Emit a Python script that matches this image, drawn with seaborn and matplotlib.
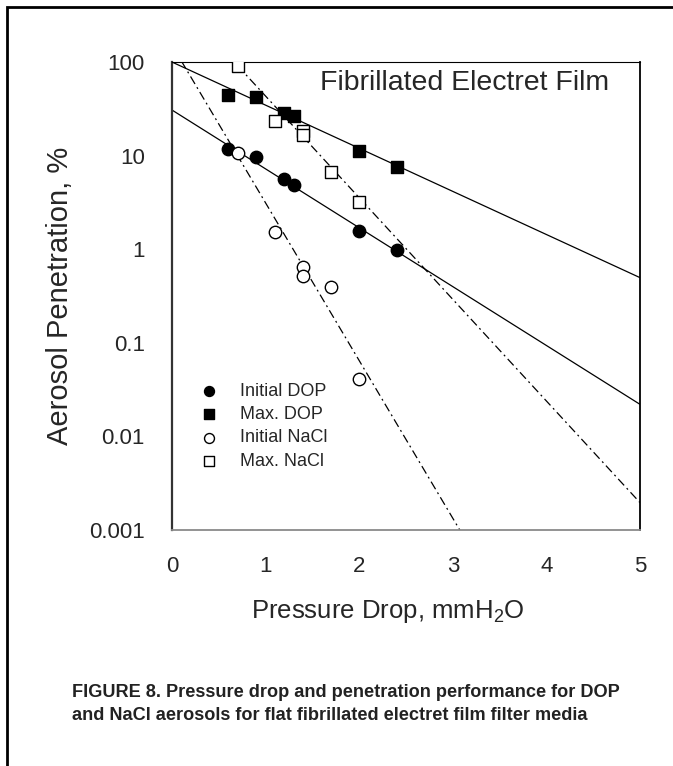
import numpy as np
import pandas as pd
import seaborn as sns
import matplotlib.pyplot as plt
from matplotlib.patches import Rectangle

# Measured points (pressure drop mmH2O, penetration %)
init_dop_x = [0.6, 0.9, 1.2, 1.3, 2.0, 2.4]
init_dop_y = [11.7, 9.6, 5.6, 4.9, 1.56, 0.98]

max_dop_x = [0.6, 0.9, 1.2, 1.3, 2.0, 2.4]
max_dop_y = [45, 42, 28.3, 26.7, 11.2, 7.6]

init_nacl_x = [0.7, 1.1, 1.4, 1.4, 1.7, 2.0]
init_nacl_y = [10.7, 1.54, 0.64, 0.52, 0.39, 0.041]

max_nacl_x = [0.7, 1.1, 1.4, 1.4, 1.7, 2.0]
max_nacl_y = [90, 23.4, 18.3, 16.8, 6.7, 3.2]

# Fitted lines, read at both ends of the x range
fit_x = [0, 5]
fit_init_dop = [30.7, 0.022]
fit_max_dop = [100, 0.497]
fit_init_nacl = [151, 5.7e-7]
fit_max_nacl = [527, 0.00196]

legend_labels = ["Initial DOP", "Max. DOP", "Initial NaCl", "Max. NaCl"]
y_ticks = [100, 10, 1, 0.1, 0.01, 0.001]
y_tick_labels = ["100", "10", "1", "0.1", "0.01", "0.001"]
x_ticks = [0, 1, 2, 3, 4, 5]
caption = ["FIGURE 8. Pressure drop and penetration performance for DOP",
           "and NaCl aerosols for flat fibrillated electret film filter media"]

sns.set_style("white")
plt.rcParams["font.family"] = ["Liberation Sans", "DejaVu Sans"]
plt.rcParams["mathtext.default"] = "regular"

fig = plt.figure(figsize=(6.73, 7.66), dpi=100)
ax = fig.add_axes([0.2556, 0.3081, 0.6954, 0.6109])

# fit lines
dashdot = (7, 3, 1.5, 3)
ax.plot(fit_x, fit_max_dop, color="black", lw=0.9)
ax.plot(fit_x, fit_init_dop, color="black", lw=0.9)
ax.plot(fit_x, fit_init_nacl, color="black", lw=0.9, dashes=dashdot)
ax.plot(fit_x, fit_max_nacl, color="black", lw=0.9, dashes=dashdot)

series = [
    (init_dop_x, init_dop_y, "o", "black", legend_labels[0]),
    (max_dop_x, max_dop_y, "s", "black", legend_labels[1]),
    (init_nacl_x, init_nacl_y, "o", "white", legend_labels[2]),
    (max_nacl_x, max_nacl_y, "s", "white", legend_labels[3]),
]
for xs, ys, mk, fc, lab in series:
    df = pd.DataFrame({"x": xs, "y": ys})
    sns.scatterplot(data=df, x="x", y="y", ax=ax, marker=mk, s=80 if mk == "o" else 72,
                    facecolor=fc, edgecolor="black", linewidth=1.0, label=lab, zorder=5)

ax.set_yscale("log")
ax.set_xlim(0, 5)
ax.set_ylim(0.001, 100)
ax.set_yticks(y_ticks)
ax.set_yticklabels(y_tick_labels)
ax.set_xticks(x_ticks)
ax.minorticks_off()
ax.tick_params(axis="both", direction="out", length=7.5, width=1, labelsize=16,
               color="black")
ax.tick_params(axis="y", pad=12)
ax.tick_params(axis="x", pad=11)

for side in ["left", "right", "top", "bottom"]:
    ax.spines[side].set_color("black")
ax.spines["left"].set_linewidth(1.6)
ax.spines["left"].set_color("#333333")
ax.spines["right"].set_linewidth(1.3)
ax.spines["top"].set_linewidth(0.8)
ax.spines["bottom"].set_linewidth(1.3)
ax.spines["bottom"].set_color("#8a8a8a")

ax.set_xlabel("Pressure Drop, mmH$_2$O", fontsize=18.5, va="baseline", ha="center")
ax.xaxis.set_label_coords(0.461, -0.188)
ax.set_ylabel("Aerosol Penetration, %", fontsize=21, va="center", ha="center")
ax.yaxis.set_label_coords(-0.239, 0.5)

ax.text(0.626, 0.955, "Fibrillated Electret Film", transform=ax.transAxes,
        fontsize=20.5, ha="center", va="center")

ax.legend(loc="upper left", bbox_to_anchor=(0.045, 0.33), frameon=False, fontsize=13,
          handletextpad=1.2, labelspacing=0.35, markerscale=0.8, borderaxespad=0,
          handlelength=1.0)

# caption, two lines
cap_y = [0.0907, 0.0607]
for line, yy in zip(caption, cap_y):
    fig.text(0.107, yy, line, weight="bold", fontsize=13.1, ha="left", va="baseline",
             color="#222222")

# page frame (left and top edges)
fig.patches.append(Rectangle((7 / 673, -0.1), 1.2, 1.1 - 7 / 766, transform=fig.transFigure,
                             fill=False, edgecolor="black", lw=2))

fig.savefig("out.png", dpi=100)
